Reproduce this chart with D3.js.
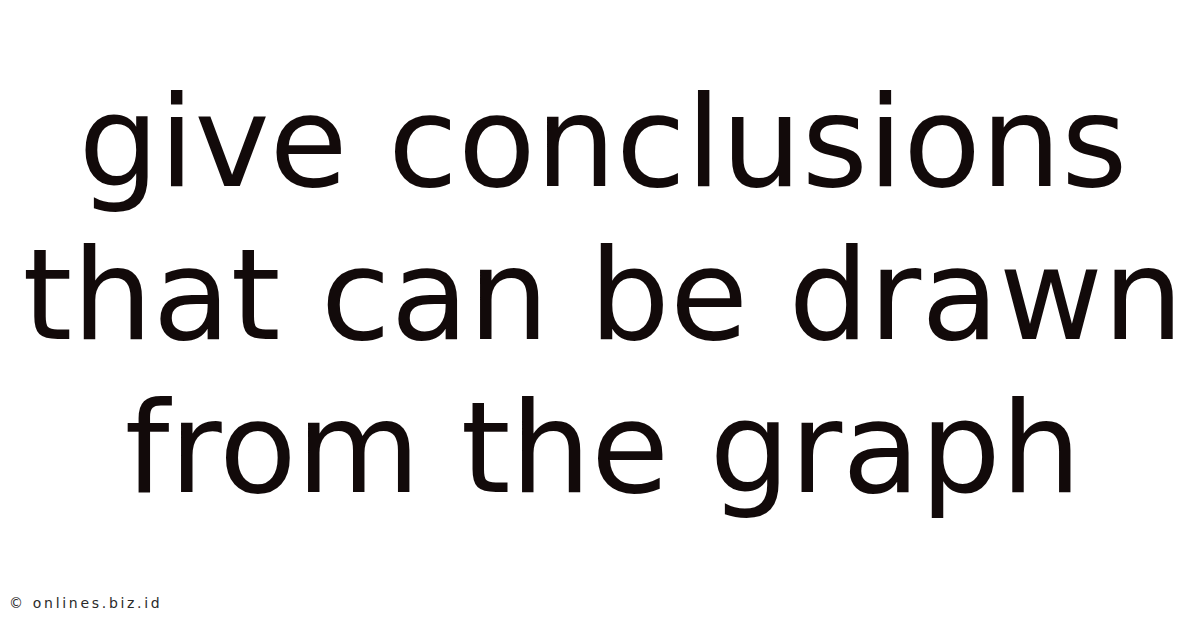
<!DOCTYPE html>
<html>
<head>
<meta charset="utf-8">
<script src="https://cdn.jsdelivr.net/npm/d3@7"></script>
<style>
  html, body { margin: 0; padding: 0; background: #ffffff; }
  svg { display: block; }
</style>
</head>
<body>
<script>
const titleLines = ["give conclusions", "that can be drawn", "from the graph"];
const watermark = ["© onlines.biz.id"];

const W = 1200, H = 628;
const svg = d3.select("body").append("svg")
  .attr("width", W).attr("height", H)
  .attr("viewBox", `0 0 ${W} ${H}`);

svg.append("rect").attr("width", W).attr("height", H).attr("fill", "#ffffff");

const y = d3.scalePoint()
  .domain(titleLines)
  .range([186, 492]);

svg.selectAll("text.title")
  .data(titleLines)
  .join("text")
  .attr("class", "title")
  .attr("x", 603)
  .attr("y", d => y(d))
  .attr("text-anchor", "middle")
  .attr("font-family", "DejaVu Sans")
  .attr("font-size", 127)
  .attr("fill", "#120a0a")
  .text(d => d);

svg.selectAll("text.wm")
  .data(watermark)
  .join("text")
  .attr("class", "wm")
  .attr("x", 9)
  .attr("y", 608)
  .attr("font-family", "DejaVu Sans")
  .attr("font-size", 14)
  .attr("letter-spacing", 2.7)
  .attr("fill", "#2a2a2a")
  .text(d => d);
</script>
</body>
</html>
